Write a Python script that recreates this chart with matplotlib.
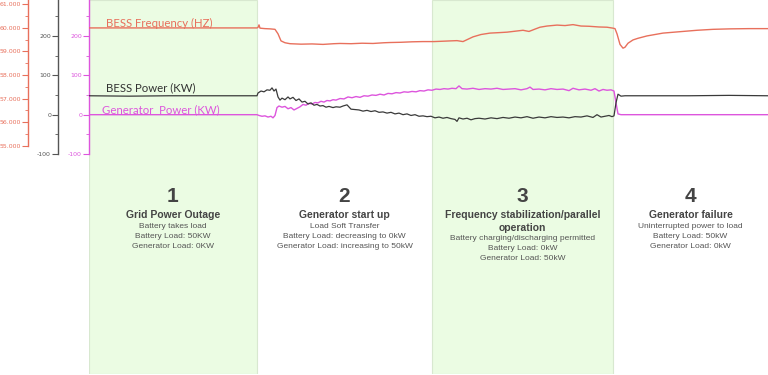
import matplotlib
matplotlib.use("Agg")
from matplotlib import pyplot as plt
from matplotlib.ticker import FixedLocator, FormatStrFormatter

# phase boundaries (s)
phase_edges = [0, 168, 343, 524, 679]
phase_numbers = ["1", "2", "3", "4"]
phase_titles = [
    ["Grid Power Outage"],
    ["Generator start up"],
    ["Frequency stabilization/parallel", "operation"],
    ["Generator failure"],
]
phase_notes = [
    ["Battery takes load", "Battery Load: 50KW", "Generator Load: 0KW"],
    ["Load Soft Transfer", "Battery Load: decreasing to 0kW", "Generator Load: increasing to 50kW"],
    ["Battery charging/discharging permitted", "Battery Load: 0kW", "Generator Load: 50kW"],
    ["Uninterrupted power to load", "Battery Load: 50kW", "Generator Load: 0kW"],
]

kw_ticks = [-100, 0, 100, 200]
kw_minor = [-50, 50, 150, 250]
hz_ticks = [55, 56, 57, 58, 59, 60, 61]
hz_minor = [55.5, 56.5, 57.5, 58.5, 59.5, 60.5]

# (time s, Hz)
bess_freq = [
    (0, 60.0), (60, 60.0), (120, 60.0), (168, 60.0), (169, 60.02), (170, 60.13), (171, 59.99),
    (176, 59.97), (181, 59.96), (186, 59.94), (189, 59.75), (192, 59.45), (196, 59.37),
    (201, 59.33), (212, 59.31), (223, 59.32), (234, 59.30), (245, 59.33), (251, 59.34),
    (262, 59.33), (273, 59.35), (284, 59.34), (295, 59.37), (301, 59.38), (312, 59.39),
    (323, 59.41), (334, 59.42), (345, 59.42), (351, 59.43), (362, 59.45), (368, 59.46),
    (374, 59.42), (378, 59.50), (384, 59.62), (392, 59.72), (401, 59.78), (410, 59.80),
    (418, 59.82), (426, 59.86), (434, 59.90), (440, 59.85), (446, 59.95), (451, 60.03),
    (458, 60.08), (468, 60.12), (476, 60.10), (484, 60.14), (492, 60.08), (500, 60.07),
    (510, 60.04), (518, 60.03), (524, 59.99), (526, 59.97), (528, 59.75), (531, 59.30),
    (534, 59.14), (536, 59.18), (539, 59.35), (544, 59.49), (549, 59.56), (558, 59.66),
    (574, 59.78), (591, 59.84), (608, 59.90), (624, 59.94), (641, 59.96), (660, 59.97),
    (679, 59.97),
]

# (time s, kW)
bess_power = [
    (0, 48), (40, 47), (80, 48), (120, 48), (168, 48), (169, 55), (172, 60), (175, 58),
    (178, 63), (181, 62), (183, 68), (185, 60), (187, 65), (189, 45), (191, 37), (193, 42),
    (196, 38), (199, 45), (201, 40), (204, 44), (207, 36), (210, 40), (213, 32), (216, 34),
    (219, 27), (222, 30), (225, 24), (228, 26), (231, 22), (234, 23), (237, 19), (240, 21),
    (244, 18), (247, 20), (251, 19), (254, 22), (258, 25), (262, 14), (266, 13), (270, 12),
    (274, 9), (278, 11), (282, 8), (286, 10), (290, 6), (294, 7), (298, 4), (302, 6),
    (306, 2), (310, 4), (314, 0), (318, 2), (322, -2), (326, 0), (330, -4), (334, -3),
    (338, -5), (342, -4), (346, -8), (350, -6), (354, -9), (358, -7), (362, -10),
    (366, -12), (368, -17), (370, -8), (374, -11), (378, -9), (382, -13), (386, -10),
    (390, -9), (396, -11), (402, -8), (408, -10), (414, -7), (420, -9), (426, -6),
    (432, -8), (438, -5), (444, -9), (450, -6), (456, -8), (462, -5), (468, -7),
    (474, -6), (480, -8), (486, -5), (492, -6), (498, -3), (504, -7), (508, 0),
    (512, -6), (516, -4), (520, -2), (523, -5), (525, -3), (527, 30), (529, 52),
    (532, 47), (536, 48), (560, 48), (600, 48), (640, 49), (679, 48),
]

generator_power = [
    (0, 0), (168, 0), (170, -2), (173, -4), (176, -3), (179, -6), (182, -4), (184, -8),
    (186, -2), (188, 18), (190, 22), (193, 19), (196, 21), (199, 15), (202, 18),
    (205, 12), (208, 16), (211, 20), (214, 26), (217, 24), (220, 29), (223, 27),
    (226, 31), (229, 30), (232, 34), (235, 32), (238, 36), (241, 35), (244, 38),
    (247, 37), (251, 41), (255, 40), (259, 45), (263, 43), (267, 46), (271, 44),
    (275, 48), (279, 47), (283, 50), (287, 49), (291, 52), (295, 50), (299, 54),
    (303, 53), (307, 56), (311, 55), (315, 58), (319, 57), (323, 59), (327, 58),
    (331, 61), (335, 60), (339, 63), (343, 62), (347, 65), (351, 64), (355, 66),
    (359, 65), (363, 67), (367, 66), (370, 73), (373, 66), (378, 65), (384, 67),
    (390, 64), (396, 66), (402, 65), (408, 67), (414, 64), (420, 65), (426, 66),
    (432, 63), (438, 66), (441, 70), (444, 64), (450, 65), (456, 63), (462, 66),
    (468, 64), (474, 65), (480, 61), (484, 67), (490, 63), (496, 65), (502, 62),
    (506, 66), (510, 60), (514, 64), (518, 62), (522, 63), (525, 60), (527, 30),
    (529, 2), (532, 0), (560, 0), (679, 0),
]

RED = "#e8705c"
GRAY = "#555555"
MAGENTA = "#dd55dd"
W, H = 768, 375

fig = plt.figure(figsize=(W / 100, H / 100), dpi=100)
ax = fig.add_axes([89 / W, 1 / H, (W - 89) / W, (H - 1) / H])
ax_pow = ax.twinx()
ax_freq = ax.twinx()

# shaded phases
for i in (0, 2):
    ax.axvspan(phase_edges[i], phase_edges[i + 1], facecolor="#ebfce3",
               edgecolor="#d8e8d0", lw=0.8, zorder=0)

t, v = zip(*generator_power)
ax.plot(t, v, color=MAGENTA, lw=1.0)
t, v = zip(*bess_power)
ax_pow.plot(t, v, color="#3a3a3a", lw=0.9)
t, v = zip(*bess_freq)
ax_freq.plot(t, v, color=RED, lw=1.0)

ax.set_xlim(0, 679)
kw_lim = (-658, 291)
ax.set_ylim(*kw_lim)
ax_pow.set_ylim(*kw_lim)
ax_freq.set_ylim(45.30, 61.186)

for a, color, pos, lo, hi, fmt, major, minor in [
    (ax, MAGENTA, 0.0, -100, 291, "%d", kw_ticks, kw_minor),
    (ax_pow, GRAY, -31 / 679, -100, 291, "%d", kw_ticks, kw_minor),
    (ax_freq, RED, -61 / 679, 55, 61.186, "%.3f", hz_ticks, hz_minor),
]:
    a.patch.set_visible(False)
    for s in ("top", "right", "bottom"):
        a.spines[s].set_visible(False)
    a.spines["left"].set_visible(True)
    a.spines["left"].set_position(("axes", pos))
    a.spines["left"].set_color(color)
    a.spines["left"].set_linewidth(1.0)
    a.spines["left"].set_bounds(lo, hi)
    a.yaxis.set_ticks_position("left")
    a.yaxis.set_major_locator(FixedLocator(major))
    a.yaxis.set_minor_locator(FixedLocator(minor))
    a.yaxis.set_major_formatter(FormatStrFormatter(fmt))
    a.tick_params(axis="y", which="major", length=4, width=0.8, colors=color,
                  labelsize=4.5, pad=1)
    a.tick_params(axis="y", which="minor", length=2, width=0.6, colors=color)
    a.set_xticks([])

# series labels
fig.text(106 / W, 1 - 23 / H, "BESS Frequency (HZ)", color=RED, fontsize=8.2,
         family="Lato", va="center")
fig.text(106 / W, 1 - 88 / H, "BESS Power (KW)", color="#333333", fontsize=8.2,
         family="Lato", va="center")
fig.text(102 / W, 1 - 110 / H, "Generator  Power (KW)", color=MAGENTA, fontsize=8.2,
         family="Lato", va="center")

# phase descriptions
for i in range(4):
    cx = (phase_edges[i] + phase_edges[i + 1]) / 2 + 89
    fig.text(cx / W, 1 - 197 / H, phase_numbers[i], ha="center", va="center",
             fontsize=15, fontweight="bold", color="#444444", family="Liberation Sans")
    y = 215
    for line in phase_titles[i]:
        fig.text(cx / W, 1 - y / H, line, ha="center", va="center", fontsize=7.5,
                 fontweight="bold", color="#444444", family="Liberation Sans")
        y += 13
    y -= 2
    for line in phase_notes[i]:
        fig.text(cx / W, 1 - y / H, line, ha="center", va="center", fontsize=6.0,
                 color="#555555", family="Liberation Sans")
        y += 10

fig.savefig("out.png", dpi=100)
